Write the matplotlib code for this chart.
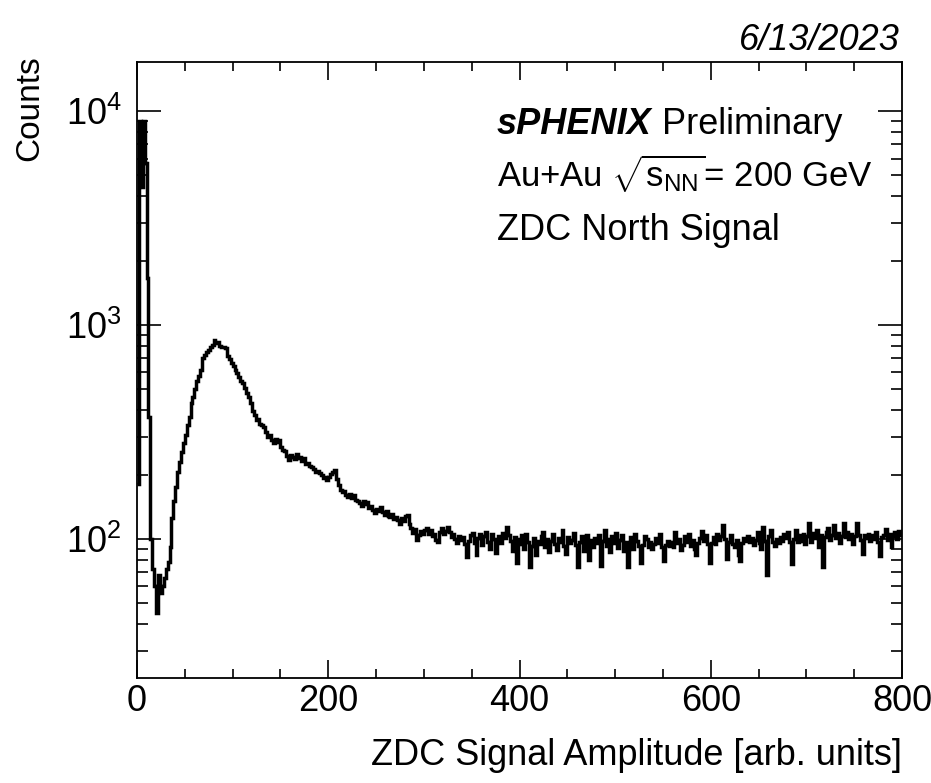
import numpy as np
import matplotlib
matplotlib.use("Agg")
import matplotlib.pyplot as plt
from matplotlib.ticker import MultipleLocator, LogLocator, FuncFormatter, NullFormatter

# ---------------- data ----------------
bin_width = 2.0
x_min, x_max = 0.0, 800.0
counts = [
    180, 9000, 4400, 9000, 5700, 1650, 370, 100, 72, 60, 45, 68, 56, 60, 66, 72, 78, 92, 125, 150,
    175, 205, 230, 255, 280, 305, 340, 372, 430, 460, 500, 550, 580, 615, 700, 725, 745, 763, 790, 810,
    850, 820, 835, 800, 790, 785, 780, 720, 690, 665, 640, 615, 595, 570, 550, 535, 510, 480, 460, 430,
    395, 380, 360, 365, 345, 340, 333, 315, 300, 305, 290, 281, 292, 285, 290, 270, 261, 258, 245, 234,
    248, 242, 236, 250, 238, 242, 232, 238, 225, 226, 220, 217, 212, 205, 208, 203, 198, 192, 195, 188,
    195, 202, 206, 210, 190, 178, 170, 165, 168, 160, 157, 163, 155, 160, 152, 150, 147, 142, 150, 145,
    149, 140, 143, 136, 132, 138, 135, 141, 133, 130, 135, 128, 127, 131, 124, 126, 123, 118, 125, 121,
    128, 130, 118, 112, 107, 111, 99, 104, 109, 105, 110, 113, 106, 110, 103, 105, 99, 97, 108, 112,
    105, 109, 114, 108, 102, 106, 100, 96, 103, 99, 102, 95, 82, 98, 104, 107, 96, 84, 101, 106,
    94, 103, 108, 97, 90, 105, 100, 86, 99, 103, 96, 107, 101, 114, 104, 98, 88, 102, 77, 100,
    95, 104, 90, 106, 97, 74, 93, 101, 84, 98, 95, 103, 108, 92, 100, 87, 98, 106, 95, 89,
    101, 97, 110, 93, 85, 102, 96, 99, 107, 94, 74, 97, 103, 88, 95, 104, 80, 99, 92, 101,
    96, 104, 75, 98, 110, 93, 100, 87, 103, 96, 107, 91, 99, 104, 88, 97, 74, 95, 102, 90,
    105, 98, 93, 77, 94, 103, 100, 92, 97, 90, 95, 101, 96, 105, 92, 79, 94, 98, 93, 97,
    92, 108, 96, 100, 89, 94, 103, 97, 105, 93, 99, 90, 84, 96, 101, 109, 98, 104, 95, 77,
    96, 102, 95, 105, 99, 103, 116, 100, 81, 97, 104, 95, 92, 99, 84, 79, 96, 101, 98, 103,
    97, 101, 94, 99, 108, 96, 90, 114, 98, 68, 103, 110, 97, 93, 100, 96, 102, 98, 105, 101,
    108, 97, 76, 100, 110, 97, 104, 98, 106, 95, 103, 119, 97, 107, 101, 110, 92, 104, 74, 102,
    108, 112, 99, 104, 116, 101, 107, 96, 103, 119, 102, 108, 100, 105, 95, 103, 119, 104, 99, 85,
    104, 101, 106, 98, 104, 100, 108, 97, 83, 102, 104, 111, 99, 106, 92, 103, 108, 100, 109, 104,
]
edges = np.arange(len(counts) + 1) * bin_width + x_min

x_major_ticks = [0, 200, 400, 600, 800]
y_limits = (22.4, 16950)

date_text = "6/13/2023"
y_label = "Counts"
x_label = "ZDC Signal Amplitude [arb. units]"
label_bold = "sPHENIX"
label_rest = " Preliminary"
label_line2 = r"Au+Au $\sqrt{\mathregular{s}_{\mathregular{NN}}}$= 200 GeV"
label_line3 = "ZDC North Signal"

# ---------------- style ----------------
plt.rcParams['font.family'] = ['Liberation Sans', 'DejaVu Sans']
plt.rcParams['mathtext.fontset'] = 'custom'
plt.rcParams['mathtext.rm'] = 'Liberation Sans'
plt.rcParams['mathtext.it'] = 'Liberation Sans:italic'
plt.rcParams['mathtext.bf'] = 'Liberation Sans:bold'
plt.rcParams['mathtext.sf'] = 'Liberation Sans'

W, H = 931, 783
fig = plt.figure(figsize=(W / 100, H / 100), dpi=100)
ax = fig.add_axes([137 / W, 1 - 678 / H, (902 - 137) / W, (678 - 62) / H])

ax.stairs(counts, edges, baseline=None, color='black', linewidth=2.5)

ax.set_yscale('log')
ax.set_xlim(x_min, x_max)
ax.set_ylim(*y_limits)

ax.xaxis.set_major_locator(plt.FixedLocator(x_major_ticks))
ax.xaxis.set_minor_locator(MultipleLocator(50))
ax.yaxis.set_major_locator(LogLocator(base=10, numticks=10))
ax.yaxis.set_minor_locator(LogLocator(base=10, subs=np.arange(2, 10), numticks=20))
ax.yaxis.set_minor_formatter(NullFormatter())
ax.yaxis.set_major_formatter(FuncFormatter(
    lambda v, p: r"$\mathregular{10^{%d}}$" % int(round(np.log10(v)))))

for s in ax.spines.values():
    s.set_linewidth(1.3)

ax.tick_params(axis='x', which='both', direction='in', top=True, bottom=True,
               labelsize=26, pad=4, width=1.2)
ax.tick_params(axis='x', which='major', length=13)
ax.tick_params(axis='x', which='minor', length=6.5)
ax.tick_params(axis='y', which='both', direction='in', left=True, right=True,
               labelsize=26, pad=11, width=1.2)
ax.tick_params(axis='y', which='major', length=17)
ax.tick_params(axis='y', which='minor', length=8)

# axis labels
fig.text(902 / W, 1 - 765 / H, x_label, ha='right', va='baseline', fontsize=26)
fig.text(30 / W, 1 - 55 / H, y_label, ha='center', va='top', rotation=90, fontsize=24)

# date
fig.text(900 / W, 1 - 50 / H, date_text, ha='right', va='baseline', fontsize=26,
         style='italic')

# annotations
tx = 497 / W
t1 = fig.text(tx, 1 - 134 / H, label_bold, ha='left', va='baseline', fontsize=26,
              weight='bold', style='italic')
fig.canvas.draw()
bb = t1.get_window_extent(renderer=fig.canvas.get_renderer())
fig.text(bb.x1 / W, 1 - 134 / H, label_rest, ha='left', va='baseline', fontsize=26)
fig.text(tx, 1 - 187 / H, label_line2, ha='left', va='baseline', fontsize=25)
fig.text(tx, 1 - 240 / H, label_line3, ha='left', va='baseline', fontsize=26)

fig.savefig("out.png", dpi=100)
